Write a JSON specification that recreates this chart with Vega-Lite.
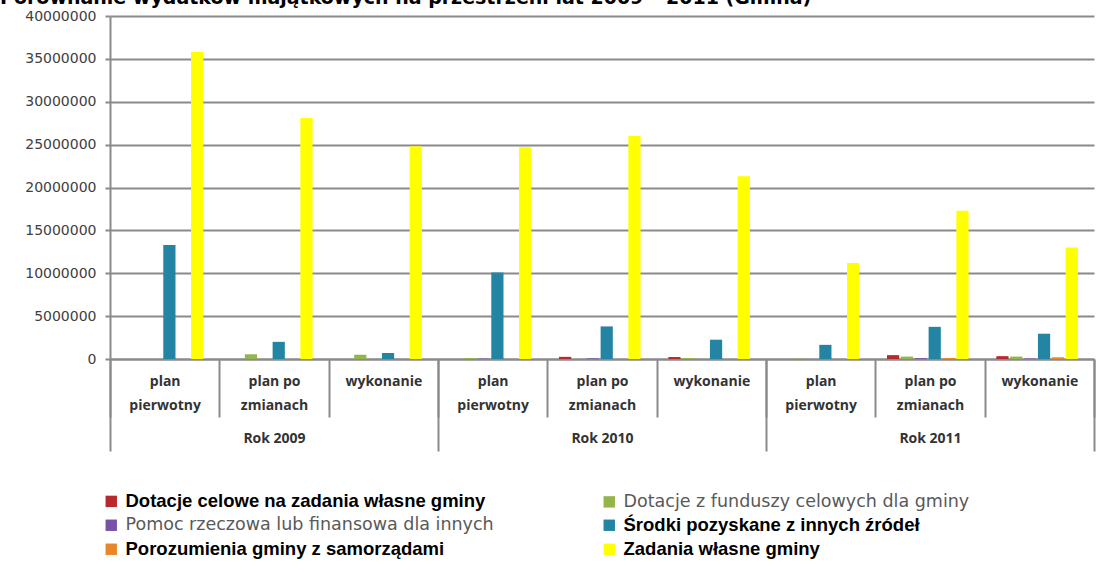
{
  "$schema": "https://vega.github.io/schema/vega-lite/v6.json",
  "width": 984,
  "height": 343,
  "autosize": {"type": "none"},
  "padding": {"left": 110, "top": 16, "right": 2, "bottom": 213},
  "background": "white",
  "title": {
    "text": "Porównanie wydatków majątkowych na przestrzeni lat 2009 – 2011 (Gmina)",
    "anchor": "start",
    "frame": "group",
    "dx": -110,
    "dy": 1,
    "offset": 2,
    "font": "DejaVu Sans",
    "fontSize": 19,
    "fontWeight": "bold",
    "color": "#000000"
  },
  "data": {
    "values": [
      {"rok": "Rok 2009", "kol": "2009|plan|pierwotny", "seria": "Dotacje celowe na zadania własne gminy", "wartosc": 0},
      {"rok": "Rok 2009", "kol": "2009|plan|pierwotny", "seria": "Dotacje z funduszy celowych dla gminy", "wartosc": 0},
      {"rok": "Rok 2009", "kol": "2009|plan|pierwotny", "seria": "Pomoc rzeczowa lub finansowa dla innych", "wartosc": 0},
      {"rok": "Rok 2009", "kol": "2009|plan|pierwotny", "seria": "Środki pozyskane z innych źródeł", "wartosc": 13300000},
      {"rok": "Rok 2009", "kol": "2009|plan|pierwotny", "seria": "Porozumienia gminy z samorządami", "wartosc": 0},
      {"rok": "Rok 2009", "kol": "2009|plan|pierwotny", "seria": "Zadania własne gminy", "wartosc": 35800000},
      {"rok": "Rok 2009", "kol": "2009|plan po|zmianach", "seria": "Dotacje celowe na zadania własne gminy", "wartosc": 0},
      {"rok": "Rok 2009", "kol": "2009|plan po|zmianach", "seria": "Dotacje z funduszy celowych dla gminy", "wartosc": 550000},
      {"rok": "Rok 2009", "kol": "2009|plan po|zmianach", "seria": "Pomoc rzeczowa lub finansowa dla innych", "wartosc": 0},
      {"rok": "Rok 2009", "kol": "2009|plan po|zmianach", "seria": "Środki pozyskane z innych źródeł", "wartosc": 2000000},
      {"rok": "Rok 2009", "kol": "2009|plan po|zmianach", "seria": "Porozumienia gminy z samorządami", "wartosc": 0},
      {"rok": "Rok 2009", "kol": "2009|plan po|zmianach", "seria": "Zadania własne gminy", "wartosc": 28100000},
      {"rok": "Rok 2009", "kol": "2009|wykonanie", "seria": "Dotacje celowe na zadania własne gminy", "wartosc": 0},
      {"rok": "Rok 2009", "kol": "2009|wykonanie", "seria": "Dotacje z funduszy celowych dla gminy", "wartosc": 500000},
      {"rok": "Rok 2009", "kol": "2009|wykonanie", "seria": "Pomoc rzeczowa lub finansowa dla innych", "wartosc": 0},
      {"rok": "Rok 2009", "kol": "2009|wykonanie", "seria": "Środki pozyskane z innych źródeł", "wartosc": 700000},
      {"rok": "Rok 2009", "kol": "2009|wykonanie", "seria": "Porozumienia gminy z samorządami", "wartosc": 0},
      {"rok": "Rok 2009", "kol": "2009|wykonanie", "seria": "Zadania własne gminy", "wartosc": 24800000},
      {"rok": "Rok 2010", "kol": "2010|plan|pierwotny", "seria": "Dotacje celowe na zadania własne gminy", "wartosc": 0},
      {"rok": "Rok 2010", "kol": "2010|plan|pierwotny", "seria": "Dotacje z funduszy celowych dla gminy", "wartosc": 100000},
      {"rok": "Rok 2010", "kol": "2010|plan|pierwotny", "seria": "Pomoc rzeczowa lub finansowa dla innych", "wartosc": 50000},
      {"rok": "Rok 2010", "kol": "2010|plan|pierwotny", "seria": "Środki pozyskane z innych źródeł", "wartosc": 10100000},
      {"rok": "Rok 2010", "kol": "2010|plan|pierwotny", "seria": "Porozumienia gminy z samorządami", "wartosc": 0},
      {"rok": "Rok 2010", "kol": "2010|plan|pierwotny", "seria": "Zadania własne gminy", "wartosc": 24700000},
      {"rok": "Rok 2010", "kol": "2010|plan po|zmianach", "seria": "Dotacje celowe na zadania własne gminy", "wartosc": 250000},
      {"rok": "Rok 2010", "kol": "2010|plan po|zmianach", "seria": "Dotacje z funduszy celowych dla gminy", "wartosc": 0},
      {"rok": "Rok 2010", "kol": "2010|plan po|zmianach", "seria": "Pomoc rzeczowa lub finansowa dla innych", "wartosc": 80000},
      {"rok": "Rok 2010", "kol": "2010|plan po|zmianach", "seria": "Środki pozyskane z innych źródeł", "wartosc": 3800000},
      {"rok": "Rok 2010", "kol": "2010|plan po|zmianach", "seria": "Porozumienia gminy z samorządami", "wartosc": 0},
      {"rok": "Rok 2010", "kol": "2010|plan po|zmianach", "seria": "Zadania własne gminy", "wartosc": 26000000},
      {"rok": "Rok 2010", "kol": "2010|wykonanie", "seria": "Dotacje celowe na zadania własne gminy", "wartosc": 230000},
      {"rok": "Rok 2010", "kol": "2010|wykonanie", "seria": "Dotacje z funduszy celowych dla gminy", "wartosc": 120000},
      {"rok": "Rok 2010", "kol": "2010|wykonanie", "seria": "Pomoc rzeczowa lub finansowa dla innych", "wartosc": 0},
      {"rok": "Rok 2010", "kol": "2010|wykonanie", "seria": "Środki pozyskane z innych źródeł", "wartosc": 2250000},
      {"rok": "Rok 2010", "kol": "2010|wykonanie", "seria": "Porozumienia gminy z samorządami", "wartosc": 0},
      {"rok": "Rok 2010", "kol": "2010|wykonanie", "seria": "Zadania własne gminy", "wartosc": 21300000},
      {"rok": "Rok 2011", "kol": "2011|plan|pierwotny", "seria": "Dotacje celowe na zadania własne gminy", "wartosc": 0},
      {"rok": "Rok 2011", "kol": "2011|plan|pierwotny", "seria": "Dotacje z funduszy celowych dla gminy", "wartosc": 40000},
      {"rok": "Rok 2011", "kol": "2011|plan|pierwotny", "seria": "Pomoc rzeczowa lub finansowa dla innych", "wartosc": 0},
      {"rok": "Rok 2011", "kol": "2011|plan|pierwotny", "seria": "Środki pozyskane z innych źródeł", "wartosc": 1650000},
      {"rok": "Rok 2011", "kol": "2011|plan|pierwotny", "seria": "Porozumienia gminy z samorządami", "wartosc": 0},
      {"rok": "Rok 2011", "kol": "2011|plan|pierwotny", "seria": "Zadania własne gminy", "wartosc": 11200000},
      {"rok": "Rok 2011", "kol": "2011|plan po|zmianach", "seria": "Dotacje celowe na zadania własne gminy", "wartosc": 450000},
      {"rok": "Rok 2011", "kol": "2011|plan po|zmianach", "seria": "Dotacje z funduszy celowych dla gminy", "wartosc": 280000},
      {"rok": "Rok 2011", "kol": "2011|plan po|zmianach", "seria": "Pomoc rzeczowa lub finansowa dla innych", "wartosc": 100000},
      {"rok": "Rok 2011", "kol": "2011|plan po|zmianach", "seria": "Środki pozyskane z innych źródeł", "wartosc": 3750000},
      {"rok": "Rok 2011", "kol": "2011|plan po|zmianach", "seria": "Porozumienia gminy z samorządami", "wartosc": 120000},
      {"rok": "Rok 2011", "kol": "2011|plan po|zmianach", "seria": "Zadania własne gminy", "wartosc": 17300000},
      {"rok": "Rok 2011", "kol": "2011|wykonanie", "seria": "Dotacje celowe na zadania własne gminy", "wartosc": 330000},
      {"rok": "Rok 2011", "kol": "2011|wykonanie", "seria": "Dotacje z funduszy celowych dla gminy", "wartosc": 280000},
      {"rok": "Rok 2011", "kol": "2011|wykonanie", "seria": "Pomoc rzeczowa lub finansowa dla innych", "wartosc": 60000},
      {"rok": "Rok 2011", "kol": "2011|wykonanie", "seria": "Środki pozyskane z innych źródeł", "wartosc": 2950000},
      {"rok": "Rok 2011", "kol": "2011|wykonanie", "seria": "Porozumienia gminy z samorządami", "wartosc": 200000},
      {"rok": "Rok 2011", "kol": "2011|wykonanie", "seria": "Zadania własne gminy", "wartosc": 13000000}
    ]
  },
  "resolve": {"scale": {"x": "independent"}, "axis": {"x": "independent"}},
  "layer": [
    {
      "mark": {"type": "bar"},
      "encoding": {
        "x": {
          "field": "kol",
          "type": "nominal",
          "sort": null,
          "scale": {"paddingInner": 0, "paddingOuter": 0},
          "axis": {
            "orient": "bottom",
            "title": null,
            "labelExpr": "slice(split(datum.value, '|'), 1)",
            "labelAngle": 0,
            "labelBaseline": "top",
            "labelLineHeight": 24,
            "labelPadding": -43,
            "labelFont": "Open Sans",
            "labelFontWeight": "bold",
            "labelFontSize": 14,
            "labelColor": "#333333",
            "tickBand": "extent",
            "tickSize": 58,
            "tickWidth": 2,
            "tickColor": "#8a8a8a",
            "domainColor": "#8a8a8a",
            "domainWidth": 2,
            "grid": false
          }
        },
        "xOffset": {
          "field": "seria",
          "type": "nominal",
          "sort": null,
          "scale": {"paddingInner": 0.12, "paddingOuter": 1.45, "align": 0.42}
        },
        "y": {
          "field": "wartosc",
          "type": "quantitative",
          "scale": {"domain": [0, 40000000], "nice": false},
          "axis": {
            "title": null,
            "values": [0, 5000000, 10000000, 15000000, 20000000, 25000000, 30000000, 35000000, 40000000],
            "format": "d",
            "labelFont": "DejaVu Sans",
            "labelFontSize": 14,
            "labelColor": "#404040",
            "labelPadding": 9,
            "tickSize": 5,
            "tickColor": "#8a8a8a",
            "tickWidth": 2,
            "domainColor": "#8a8a8a",
            "domainWidth": 2,
            "grid": true,
            "gridColor": "#8a8a8a",
            "gridWidth": 2
          }
        },
        "color": {
          "field": "seria",
          "type": "nominal",
          "sort": null,
          "scale": {
            "domain": [
              "Dotacje celowe na zadania własne gminy",
              "Dotacje z funduszy celowych dla gminy",
              "Pomoc rzeczowa lub finansowa dla innych",
              "Środki pozyskane z innych źródeł",
              "Porozumienia gminy z samorządami",
              "Zadania własne gminy"
            ],
            "range": ["#B8282F", "#93B54B", "#7852A6", "#2484A3", "#E8862A", "#FFFF00"]
          },
          "legend": {
            "title": null,
            "orient": "none",
            "legendX": -8,
            "legendY": 476,
            "columns": 2,
            "direction": "horizontal",
            "columnPadding": 106,
            "rowPadding": 5,
            "symbolType": "square",
            "symbolSize": 130,
            "symbolStrokeWidth": 0,
            "labelOffset": 5,
            "labelLimit": 600,
            "labelFontSize": 17,
            "encode": {
              "labels": {
                "update": {
                  "font": {"signal": "(datum.label === 'Pomoc rzeczowa lub finansowa dla innych' || datum.label === 'Dotacje z funduszy celowych dla gminy') ? 'DejaVu Sans' : 'Liberation Sans'"},
                  "fontWeight": {"signal": "(datum.label === 'Pomoc rzeczowa lub finansowa dla innych' || datum.label === 'Dotacje z funduszy celowych dla gminy') ? 'normal' : 'bold'"},
                  "fontSize": {"signal": "(datum.label === 'Pomoc rzeczowa lub finansowa dla innych' || datum.label === 'Dotacje z funduszy celowych dla gminy') ? 17.5 : 18.5"},
                  "fill": {"signal": "(datum.label === 'Pomoc rzeczowa lub finansowa dla innych' || datum.label === 'Dotacje z funduszy celowych dla gminy') ? '#595959' : '#000000'"}
                }
              }
            }
          }
        }
      }
    },
    {
      "mark": {"type": "point", "opacity": 0},
      "encoding": {
        "x": {
          "field": "rok",
          "type": "nominal",
          "sort": null,
          "scale": {"paddingInner": 0, "paddingOuter": 0},
          "axis": {
            "orient": "bottom",
            "title": null,
            "labelAngle": 0,
            "labelBaseline": "top",
            "labelPadding": -20,
            "labelFont": "Open Sans",
            "labelFontWeight": "bold",
            "labelFontSize": 14,
            "labelColor": "#333333",
            "tickBand": "extent",
            "tickSize": 92,
            "tickWidth": 2,
            "tickColor": "#8a8a8a",
            "domain": false,
            "grid": false
          }
        }
      }
    }
  ],
  "config": {
    "view": {"stroke": null}
  }
}
